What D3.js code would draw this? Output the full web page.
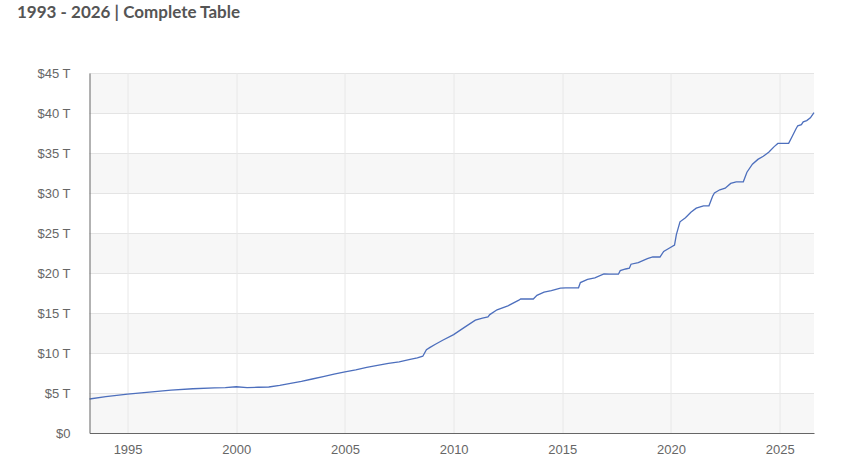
<!DOCTYPE html>
<html>
<head>
<meta charset="utf-8">
<script src="https://cdn.jsdelivr.net/npm/d3@7"></script>
<style>
  body { margin: 0; background: #fff; }
  svg { display: block; }
  .title { font-family: Lato, "Open Sans", sans-serif; font-weight: 700; font-size: 17px; fill: #555; }
  .tick text { font-family: "Liberation Sans", Arial, sans-serif; font-size: 13px; fill: #666; }
</style>
</head>
<body>
<div id="chart"></div>
<script>
// --- Data (trillions of USD) ---
const dates = [
  "1993-04", "1994-01", "1995-01", "1996-01", "1997-01", "1998-01", "1999-01", "1999-07",
  "2000-01", "2000-07", "2001-01", "2001-07", "2002-01", "2002-07", "2003-01", "2003-07",
  "2004-01", "2004-07", "2005-01", "2005-07", "2006-01", "2006-07", "2007-01", "2007-07",
  "2008-01", "2008-05", "2008-08", "2008-10", "2008-12", "2009-03", "2009-07", "2010-01",
  "2010-07", "2011-01", "2011-05", "2011-08", "2011-09", "2012-01", "2012-07", "2013-01",
  "2013-02", "2013-09", "2013-11", "2014-03", "2014-07", "2014-12", "2015-03", "2015-10",
  "2015-11", "2016-03", "2016-07", "2016-12", "2017-03", "2017-08", "2017-09", "2017-12",
  "2018-02", "2018-03", "2018-07", "2018-12", "2019-03", "2019-07", "2019-09", "2019-12",
  "2020-03", "2020-04", "2020-06", "2020-09", "2020-12", "2021-03", "2021-07", "2021-10",
  "2021-12", "2022-01", "2022-04", "2022-07", "2022-10", "2023-01", "2023-05", "2023-07",
  "2023-10", "2024-01", "2024-04", "2024-07", "2024-10", "2024-12", "2025-06", "2025-08",
  "2025-10", "2025-11", "2026-01", "2026-02", "2026-04", "2026-06", "2026-08"
];
const debt = [
  4.25, 4.55, 4.85, 5.12, 5.35, 5.53, 5.63, 5.68,
  5.78, 5.68, 5.72, 5.75, 5.95, 6.2, 6.45, 6.75,
  7.05, 7.35, 7.65, 7.9, 8.2, 8.45, 8.7, 8.9,
  9.2, 9.4, 9.6, 10.4, 10.7, 11.1, 11.6, 12.3,
  13.2, 14.1, 14.35, 14.5, 14.8, 15.4, 15.9, 16.6,
  16.75, 16.75, 17.2, 17.6, 17.8, 18.1, 18.15, 18.15,
  18.8, 19.2, 19.4, 19.9, 19.85, 19.85, 20.3, 20.5,
  20.6, 21.1, 21.3, 21.8, 22.0, 22.0, 22.7, 23.1,
  23.5, 24.8, 26.4, 26.9, 27.6, 28.1, 28.4, 28.4,
  29.6, 30.0, 30.4, 30.6, 31.2, 31.4, 31.4, 32.6,
  33.6, 34.2, 34.6, 35.1, 35.8, 36.2, 36.2, 37.1,
  38.0, 38.4, 38.55, 38.9, 39.05, 39.4, 40.05
];
const yTicks = [0, 5, 10, 15, 20, 25, 30, 35, 40, 45];
const xTickYears = [1995, 2000, 2005, 2010, 2015, 2020, 2025];

// --- Setup ---
const width = 855, height = 476;
const margin = { top: 73, right: 41, bottom: 43, left: 89.5 };
const innerW = width - margin.left - margin.right;
const innerH = height - margin.top - margin.bottom;

const parse = d3.timeParse("%Y-%m");
const data = dates.map((d, i) => ({ date: parse(d), value: debt[i] }));

const svg = d3.select("#chart").append("svg")
  .attr("width", width).attr("height", height);

svg.append("text").attr("class", "title")
  .attr("x", 17).attr("y", 18)
  .text("1993 - 2026 | Complete Table");

const g = svg.append("g").attr("transform", `translate(${margin.left},${margin.top})`);

// --- Scales ---
const x = d3.scaleTime()
  .domain(d3.extent(data, d => d.date))
  .range([0, innerW]);
const y = d3.scaleLinear().domain([0, 45]).range([innerH, 0]);

// --- Bands ---
g.append("g").selectAll("rect")
  .data(yTicks.slice(0, -1).filter((d, i) => i % 2 === 0))
  .join("rect")
  .attr("x", 0).attr("width", innerW)
  .attr("y", d => y(d + 5)).attr("height", d => y(d) - y(d + 5))
  .attr("fill", "#f7f7f7");

// --- Grid ---
g.append("g").selectAll("line")
  .data(yTicks.slice(1))
  .join("line")
  .attr("x1", 0).attr("x2", innerW)
  .attr("y1", d => y(d) + 0.5).attr("y2", d => y(d) + 0.5)
  .attr("stroke", "#e4e4e4");

const xTicks = xTickYears.map(yr => new Date(yr, 0, 1));
g.append("g").selectAll("line")
  .data(xTicks)
  .join("line")
  .attr("x1", d => Math.round(x(d)) + 0.5).attr("x2", d => Math.round(x(d)) + 0.5)
  .attr("y1", 0).attr("y2", innerH)
  .attr("stroke", "#e8e8e8");

// --- Line ---
const line = d3.line().x(d => x(d.date)).y(d => y(d.value));
g.append("path").datum(data)
  .attr("fill", "none")
  .attr("stroke", "#4d6fbd")
  .attr("stroke-width", 1.3)
  .attr("d", line);

// --- Axes ---
const yAxis = d3.axisLeft(y).tickValues(yTicks)
  .tickSize(0).tickPadding(19)
  .tickFormat(d => d === 0 ? "$0" : `$${d} T`);
g.append("g").call(yAxis)
  .call(a => a.select(".domain").attr("stroke", "#666"));

const xAxis = d3.axisBottom(x).tickValues(xTicks)
  .tickSize(0).tickPadding(12)
  .tickFormat(d3.timeFormat("%Y"));
g.append("g").attr("transform", `translate(0,${innerH})`).call(xAxis)
  .call(a => a.select(".domain").attr("stroke", "#666"));
</script>
</body>
</html>
